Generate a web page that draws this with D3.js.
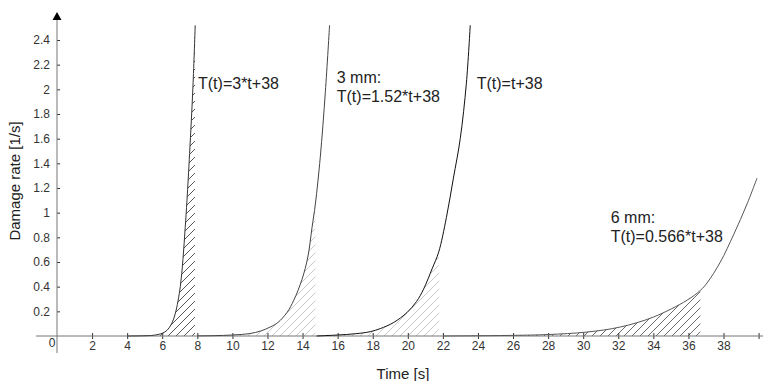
<!DOCTYPE html>
<html>
<head>
<meta charset="utf-8">
<script src="https://cdn.jsdelivr.net/npm/d3@7"></script>
<style>
  body { margin: 0; background: #fff; }
  svg { display: block; font-family: "Liberation Sans", Arial, sans-serif; }
  .tick text { fill: #333; font-size: 12px; }
</style>
</head>
<body>
<svg id="chart" width="763" height="381"></svg>
<script>

// damage rate curves: [time (s), rate (1/s)]
let curve1 = [[4, 0], [5, 0.002], [5.5, 0.006], [6, 0.022], [6.27, 0.046], [6.5, 0.09], [6.74, 0.18],
  [7.03, 0.4], [7.18, 0.62], [7.31, 0.88], [7.41, 1.1], [7.56, 1.48], [7.75, 2.02], [7.88, 2.52]];
let curve2 = [[8, 0.001], [9, 0.003], [10, 0.008], [11, 0.02], [11.6, 0.04], [12.16, 0.073], [12.6, 0.11],
  [13.11, 0.19], [13.5, 0.29], [13.97, 0.46], [14.3, 0.64], [14.54, 0.88], [14.73, 1.07], [15.01, 1.45],
  [15.3, 1.98], [15.54, 2.52]];
let curve3 = [[14.8, 0], [16, 0.008], [17, 0.018], [17.86, 0.035], [18.43, 0.06], [19.2, 0.11], [19.95, 0.19],
  [20.5, 0.28], [20.9, 0.38], [21.4, 0.55], [21.76, 0.68], [22.2, 0.96], [22.6, 1.28], [22.99, 1.6],
  [23.34, 2.05], [23.56, 2.52]];
let curve4 = [[22, 0], [24, 0.002], [26.4, 0.006], [28, 0.012], [30.22, 0.032], [32.12, 0.073], [34.01, 0.154],
  [35.92, 0.29], [36.68, 0.37], [37.06, 0.43], [37.82, 0.6], [38.57, 0.82], [39.34, 1.07], [39.91, 1.28]];

let curves = [curve1, curve2, curve3, curve4];
let hatchEnd = [7.88, 14.73, 21.76, 36.68];   // end of the shaded interval (s)

let xTicks = [2, 4, 6, 8, 10, 12, 14, 16, 18, 20, 22, 24, 26, 28, 30, 32, 34, 36, 38, 40];
let yTicks = [0.2, 0.4, 0.6, 0.8, 1, 1.2, 1.4, 1.6, 1.8, 2, 2.2, 2.4];

let labels = [
  ['T(t)=3*t+38'],
  ['3 mm:', 'T(t)=1.52*t+38'],
  ['T(t)=t+38'],
  ['6 mm:', 'T(t)=0.566*t+38']
];
let labelAt = [[8.04, 2.0], [15.95, 2.05], [23.93, 2.0], [31.57, 0.917]];

// styles
let lineColor = ['#333', '#444', '#111', '#555'];
let hatchColor = ['#555', '#c8c8c8', '#c8c8c8', '#6a6a6a'];

let svg = d3.select('#chart');

let x = d3.scaleLinear().domain([0, 40]).range([57, 758.6]);
let y = d3.scaleLinear().domain([0, 2.4]).range([336, 40]);

// hatch patterns + clip to the shaded interval
let defs = svg.append('defs');
hatchColor.forEach(function (c, i) {
  defs.append('pattern')
    .attr('id', 'hatch' + i)
    .attr('patternUnits', 'userSpaceOnUse')
    .attr('width', 8).attr('height', 8)
    .append('path')
    .attr('d', 'M0,8 L8,0 M-2,2 L2,-2 M6,10 L10,6')
    .attr('stroke', c)
    .attr('stroke-width', 1);

  defs.append('clipPath')
    .attr('id', 'clip' + i)
    .append('rect')
    .attr('x', x(curves[i][0][0]))
    .attr('y', 0)
    .attr('width', x(hatchEnd[i]) - x(curves[i][0][0]))
    .attr('height', y(0));
});

let area = d3.area()
  .x(function (d) { return x(d[0]); })
  .y0(y(0))
  .y1(function (d) { return y(d[1]); })
  .curve(d3.curveCatmullRom.alpha(0.5));

let line = d3.line()
  .x(function (d) { return x(d[0]); })
  .y(function (d) { return y(d[1]); })
  .curve(d3.curveCatmullRom.alpha(0.5));

svg.append('g').selectAll('path')
  .data(curves)
  .enter()
  .append('path')
  .attr('d', area)
  .attr('fill', function (d, i) { return 'url(#hatch' + i + ')'; })
  .attr('clip-path', function (d, i) { return 'url(#clip' + i + ')'; });

// axes
let xAxis = svg.append('g')
  .attr('transform', 'translate(0,' + y(0) + ')')
  .call(d3.axisBottom(x).tickValues(xTicks).tickSize(3).tickPadding(2.5)
    .tickFormat(function (d) { return d == 40 ? '' : d; }));
xAxis.select('.domain').remove();
xAxis.selectAll('.tick line').attr('y1', -3).attr('stroke', '#333');

svg.append('line')
  .attr('x1', 36).attr('x2', 763)
  .attr('y1', y(0)).attr('y2', y(0))
  .attr('stroke', '#777');

let yAxis = svg.append('g')
  .attr('transform', 'translate(' + x(0) + ',0)')
  .call(d3.axisLeft(y).tickValues(yTicks).tickSize(3).tickPadding(4)
    .tickFormat(function (d) { return d; }));
yAxis.select('.domain').remove();
yAxis.selectAll('.tick line').attr('x2', 3).attr('stroke', '#333');

svg.append('line')
  .attr('x1', x(0)).attr('x2', x(0))
  .attr('y1', 18).attr('y2', 353)
  .attr('stroke', '#777');

svg.append('path')
  .attr('d', 'M' + x(0) + ',12 L' + (x(0) - 4.5) + ',20 L' + (x(0) + 4.5) + ',20 Z')
  .attr('fill', '#000');

svg.append('text')
  .attr('x', x(0) - 5).attr('y', 347)
  .attr('text-anchor', 'middle')
  .attr('font-size', 12).attr('fill', '#333')
  .text('0');

// curves
svg.append('g').selectAll('path')
  .data(curves)
  .enter()
  .append('path')
  .attr('d', line)
  .attr('fill', 'none')
  .attr('stroke', function (d, i) { return lineColor[i]; })
  .attr('stroke-width', 1);

// annotations
labels.forEach(function (lines, i) {
  let t = svg.append('text')
    .attr('x', x(labelAt[i][0]))
    .attr('y', y(labelAt[i][1]))
    .attr('font-size', 16)
    .attr('fill', '#222');
  lines.forEach(function (s, j) {
    t.append('tspan')
      .attr('x', x(labelAt[i][0]))
      .attr('dy', j == 0 ? 0 : 19)
      .text(s);
  });
});

// axis titles
svg.append('text')
  .attr('x', 403).attr('y', 379)
  .attr('text-anchor', 'middle')
  .attr('font-size', 15).attr('fill', '#222')
  .text('Time [s]');

svg.append('text')
  .attr('transform', 'translate(20,181) rotate(-90)')
  .attr('text-anchor', 'middle')
  .attr('font-size', 15).attr('fill', '#222')
  .text('Damage rate [1/s]');

</script>
</body>
</html>
